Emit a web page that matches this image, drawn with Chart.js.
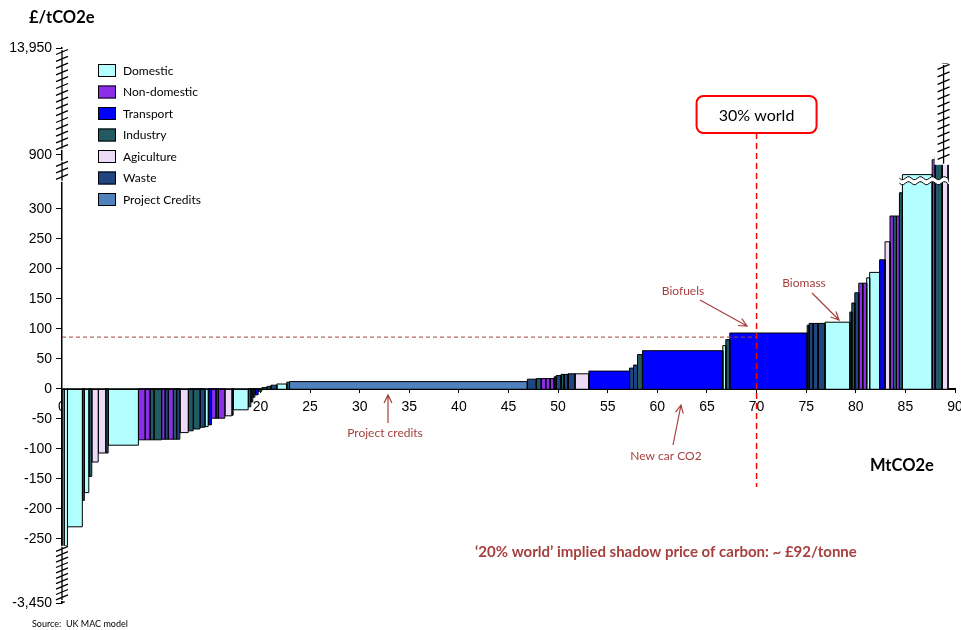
<!DOCTYPE html>
<html>
<head>
<meta charset="utf-8">
<title>UK MAC curve</title>
<script src="https://cdn.jsdelivr.net/npm/chart.js@4.4.1/dist/chart.umd.min.js"></script>
<style>
  html, body { margin: 0; padding: 0; background: #fff; }
  canvas { display: block; }
</style>
</head>
<body>
<canvas id="mac" width="961" height="630"></canvas>
<script>
// Sectors and their fill colours
const sectorNames = ["Domestic", "Non-domestic", "Transport", "Industry", "Agiculture", "Waste", "Project Credits"];
const sectorColors = ["#b3ffff", "#8c2ee8", "#0000ff", "#215a63", "#ecdaf6", "#1f4680", "#4f81bd"];

// Abatement measures, in merit order: abatement (MtCO2e), cost (£/tCO2e), sector index
const barWidths = [0.2, 0.35, 1.5, 0.2, 0.45, 0.3, 0.65, 0.75, 0.25, 3.05,
  0.66, 0.5, 0.4, 0.78, 0.33, 0.33, 0.51, 0.34, 0.33, 0.84,
  0.5, 0.68, 0.5, 0.33, 0.34, 0.43, 0.25, 0.66, 0.71, 0.13,
  1.51, 0.27, 0.2, 0.21, 0.33, 0.37, 0.51, 0.4, 0.6, 1.0,
  0.28, 23.97, 0.9, 0.5, 0.45, 0.45, 0.4, 0.2, 0.5, 0.3,
  0.4, 0.7, 1.4, 4.1, 0.4, 0.4, 0.5, 8.1, 0.3, 0.4,
  7.8, 0.2, 0.4, 0.5, 0.7, 2.5, 0.2, 0.3, 0.4, 0.4,
  0.4, 0.3, 1.0, 0.55, 0.5, 0.35, 0.3, 0.3, 0.3, 3.0,
  0.3, 0.7, 0.6];
const barCosts = [-3450, -600, -230, -186, -173, -146, -122, -107, -107, -94,
  -85, -85, -85, -85, -84, -84, -84, -84, -84, -73,
  -70, -67, -64, -63, -60, -49, -49, -49, -45, -44,
  -35, -30, -22, -14, -10, -4, 2, 4, 6, 8,
  11, 12, 16, 17, 17, 17, 17, 20, 22, 24,
  24, 25, 25, 29.5, 34.5, 39.5, 57, 63.5, 72, 82,
  93, 106, 109, 109, 109, 111, 128, 143, 160, 176,
  176, 185, 194, 215, 245, 288, 288, 288, 478, 680,
  845, 880, 12000];
const barSectors = [4, 0, 0, 5, 0, 3, 4, 4, 3, 0,
  1, 1, 3, 3, 1, 5, 1, 3, 5, 4,
  3, 3, 5, 0, 2, 1, 5, 1, 4, 3,
  0, 3, 5, 3, 2, 3, 3, 3, 5, 0,
  3, 6, 5, 3, 1, 1, 1, 3, 5, 3,
  5, 5, 4, 2, 5, 5, 3, 2, 0, 3,
  2, 3, 5, 5, 5, 0, 3, 3, 5, 1,
  1, 0, 0, 2, 4, 1, 3, 1, 3, 0,
  1, 3, 4];

// Cost axis: labelled values and the broken-scale mapping (value -> axis position)
const yTickValues = [-3450, -250, -200, -150, -100, -50, 0, 50, 100, 150, 200, 250, 300, 900, 13950];
const axisBreakValues = [-3450, -250, 300, 900, 13950];
const axisBreakPositions = [-357, -250, 300, 390, 568];
const xTickStep = 5;
const xMax = 90;

// Reference levels
const shadowPrice = 87;      // '20% world' carbon price line
const worldTarget = 70;      // '30% world' abatement requirement

function toAxis(v) {
  const vs = axisBreakValues, ps = axisBreakPositions;
  if (v <= vs[0]) return ps[0];
  for (let i = 0; i < vs.length - 1; i++) {
    if (v <= vs[i + 1]) {
      return ps[i] + (v - vs[i]) * (ps[i + 1] - ps[i]) / (vs[i + 1] - vs[i]);
    }
  }
  return ps[ps.length - 1];
}

// Each measure is a rectangle from the zero line to its cost
let cursor = 0;
const datasets = barWidths.map((w, i) => {
  const x0 = cursor, x1 = cursor + w, y = toAxis(barCosts[i]);
  cursor = x1;
  return {
    data: [{x: x0, y: 0}, {x: x0, y: y}, {x: x1, y: y}, {x: x1, y: 0}],
    backgroundColor: sectorColors[barSectors[i]],
    borderColor: "#000",
    borderWidth: 1,
    borderJoinStyle: "miter",
    fill: "origin",
    pointRadius: 0,
    tension: 0
  };
});

const MAROON = "#a5403f";
const TEXT_FONT = "Lato, 'Open Sans', sans-serif";

function arrow(ctx, x0, y0, x1, y1, color) {
  ctx.save();
  ctx.strokeStyle = color;
  ctx.lineWidth = 1.2;
  ctx.setLineDash([]);
  ctx.beginPath();
  ctx.moveTo(x0, y0);
  ctx.lineTo(x1, y1);
  const a = Math.atan2(y1 - y0, x1 - x0), L = 9, s = 0.45;
  ctx.moveTo(x1 - L * Math.cos(a - s), y1 - L * Math.sin(a - s));
  ctx.lineTo(x1, y1);
  ctx.lineTo(x1 - L * Math.cos(a + s), y1 - L * Math.sin(a + s));
  ctx.stroke();
  ctx.restore();
}

function axisBreak(ctx, x, yTop, yBottom, step) {
  ctx.save();
  ctx.fillStyle = "#fff";
  ctx.fillRect(x - 9, yTop - 1, 18, yBottom - yTop + 2);
  ctx.strokeStyle = "#000";
  ctx.lineWidth = 1.3;
  ctx.beginPath();
  ctx.moveTo(x, yTop);
  ctx.lineTo(x, yBottom);
  for (let y = yTop + 2; y <= yBottom - 1; y += step) {
    ctx.moveTo(x - 6, y + 2.5);
    ctx.lineTo(x + 6, y - 2.5);
  }
  ctx.stroke();
  ctx.restore();
}

function wave(ctx, x0, x1, y) {
  ctx.moveTo(x0, y);
  for (let x = x0; x <= x1; x += 2) {
    ctx.lineTo(x, y + 1.6 * Math.sin((x - x0) / 12 * Math.PI * 2));
  }
}

const annotations = {
  id: "annotations",
  afterDatasetsDraw(chart) {
    const {ctx, chartArea, scales: {x, y}} = chart;
    ctx.save();

    // Zero line over the bar tops
    const zy = Math.round(y.getPixelForValue(0)) + 0.5;
    ctx.strokeStyle = "#000";
    ctx.lineWidth = 1;
    ctx.beginPath();
    ctx.moveTo(chartArea.left, zy);
    ctx.lineTo(x.getPixelForValue(xMax), zy);
    ctx.stroke();

    // Broken scale marks on the cost axis
    const ax = chartArea.left;
    axisBreak(ctx, ax, y.getPixelForValue(toAxis(13950)) + 2, y.getPixelForValue(toAxis(900)) - 6, 6.8);
    axisBreak(ctx, ax, y.getPixelForValue(toAxis(900)) + 7, y.getPixelForValue(toAxis(300)) - 28, 6.5);
    axisBreak(ctx, ax, y.getPixelForValue(toAxis(-250)) + 8, y.getPixelForValue(toAxis(-3450)) - 3, 5.4);

    // Break on the tallest measure
    const tallX = x.getPixelForValue(89.05);
    axisBreak(ctx, tallX - 2, y.getPixelForValue(toAxis(12000)) + 1, y.getPixelForValue(toAxis(800)), 7.5);

    // Wavy break across the high-cost measures
    const wx0 = x.getPixelForValue(84.4), wx1 = x.getPixelForValue(89.4);
    const wy = y.getPixelForValue(toAxis(640));
    ctx.beginPath();
    wave(ctx, wx0, wx1, wy);
    ctx.lineTo(wx1, wy + 5);
    for (let xx = wx1; xx >= wx0; xx -= 2) {
      ctx.lineTo(xx, wy + 5 + 1.6 * Math.sin((xx - wx0) / 12 * Math.PI * 2));
    }
    ctx.closePath();
    ctx.fillStyle = "#fff";
    ctx.fill();
    ctx.strokeStyle = "#000";
    ctx.lineWidth = 1;
    ctx.beginPath();
    wave(ctx, wx0, wx1, wy);
    ctx.stroke();
    ctx.beginPath();
    wave(ctx, wx0, wx1, wy + 5);
    ctx.stroke();

    // '20% world' price level
    const py = y.getPixelForValue(toAxis(shadowPrice));
    const tx = x.getPixelForValue(worldTarget);
    ctx.strokeStyle = MAROON;
    ctx.lineWidth = 1;
    ctx.setLineDash([4, 3]);
    ctx.beginPath();
    ctx.moveTo(chartArea.left, py + 0.5);
    ctx.lineTo(tx, py + 0.5);
    ctx.stroke();

    // '30% world' requirement
    const boxW = 120, boxH = 37, boxTop = 96;
    ctx.strokeStyle = "#ff0000";
    ctx.lineWidth = 1.5;
    ctx.setLineDash([6, 4]);
    ctx.beginPath();
    ctx.moveTo(tx, boxTop + boxH);
    ctx.lineTo(tx, 487);
    ctx.stroke();
    ctx.setLineDash([]);
    ctx.lineWidth = 2;
    ctx.fillStyle = "#fff";
    ctx.beginPath();
    ctx.roundRect(tx - boxW / 2, boxTop, boxW, boxH, 7);
    ctx.fill();
    ctx.stroke();
    ctx.fillStyle = "#000";
    ctx.font = "16px " + TEXT_FONT;
    ctx.textAlign = "center";
    ctx.textBaseline = "middle";
    ctx.fillText("30% world", tx, boxTop + boxH / 2 + 1);

    // Measure call-outs
    ctx.font = "12px " + TEXT_FONT;
    ctx.fillStyle = MAROON;
    ctx.fillText("Biofuels", 683, 291);
    arrow(ctx, 700, 300, 747, 326, MAROON);
    ctx.fillText("Biomass", 804, 283);
    arrow(ctx, 812, 293, 839, 320, MAROON);
    ctx.fillText("Project credits", 385, 433);
    arrow(ctx, 388, 423, 388, 395, MAROON);
    ctx.fillText("New car CO2", 666, 456);
    arrow(ctx, 673, 445, 681, 405, MAROON);

    ctx.font = "bold 15px " + TEXT_FONT;
    ctx.textAlign = "left";
    ctx.fillText("\u201820% world\u2019 implied shadow price of carbon: ~ \u00a392/tonne", 475, 552);

    // Axis titles and source
    ctx.fillStyle = "#000";
    ctx.font = "bold 16.5px " + TEXT_FONT;
    ctx.fillText("\u00a3/tCO2e", 29, 18);
    ctx.font = "bold 16.5px " + TEXT_FONT;
    ctx.fillText("MtCO2e", 870, 466);
    ctx.font = "9px " + TEXT_FONT;
    ctx.fillText("Source:  UK MAC model", 32, 624);

    // Sector key
    ctx.font = "12px " + TEXT_FONT;
    sectorNames.forEach((name, i) => {
      const cy = 70 + i * 21.5;
      ctx.fillStyle = sectorColors[i];
      ctx.fillRect(98, cy - 6, 18, 13);
      ctx.strokeStyle = "#000";
      ctx.lineWidth = 1;
      ctx.strokeRect(98.5, cy - 5.5, 17, 12);
      ctx.fillStyle = "#000";
      ctx.fillText(name, 123, cy + 1);
    });

    ctx.restore();
  }
};

new Chart(document.getElementById("mac"), {
  type: "line",
  data: { datasets },
  plugins: [annotations],
  options: {
    responsive: false,
    animation: false,
    devicePixelRatio: 1,
    layout: { padding: { left: 0, top: 48, right: 6, bottom: 27 } },
    plugins: { legend: { display: false }, tooltip: { enabled: false } },
    elements: { line: { tension: 0 } },
    scales: {
      x: {
        type: "linear",
        min: 0,
        max: xMax,
        position: { y: 0 },
        border: { display: true, color: "#000", width: 1 },
        grid: { display: true, drawOnChartArea: false, drawTicks: true, tickLength: 4, color: "#000" },
        ticks: {
          stepSize: xTickStep,
          autoSkip: false,
          maxRotation: 0,
          padding: 6,
          color: "#000",
          font: { family: "'Liberation Sans', Arial, sans-serif", size: 14 }
        },
        afterFit(s) { s.height = 0; s.paddingLeft = 0; s.paddingRight = 0; }
      },
      y: {
        type: "linear",
        min: toAxis(-3450),
        max: toAxis(13950),
        border: { display: true, color: "#000", width: 1.5 },
        grid: { display: true, drawOnChartArea: false, drawTicks: true, tickLength: 6, color: "#000" },
        afterBuildTicks(s) { s.ticks = yTickValues.map(v => ({ value: toAxis(v) })); },
        ticks: {
          autoSkip: false,
          padding: 4,
          color: "#000",
          font: { family: "'Liberation Sans', Arial, sans-serif", size: 14 },
          callback: (val, idx) => yTickValues[idx].toLocaleString("en-US")
        },
        afterFit(s) { s.width = 62; s.paddingTop = 0; s.paddingBottom = 0; }
      }
    }
  }
});
</script>
</body>
</html>
